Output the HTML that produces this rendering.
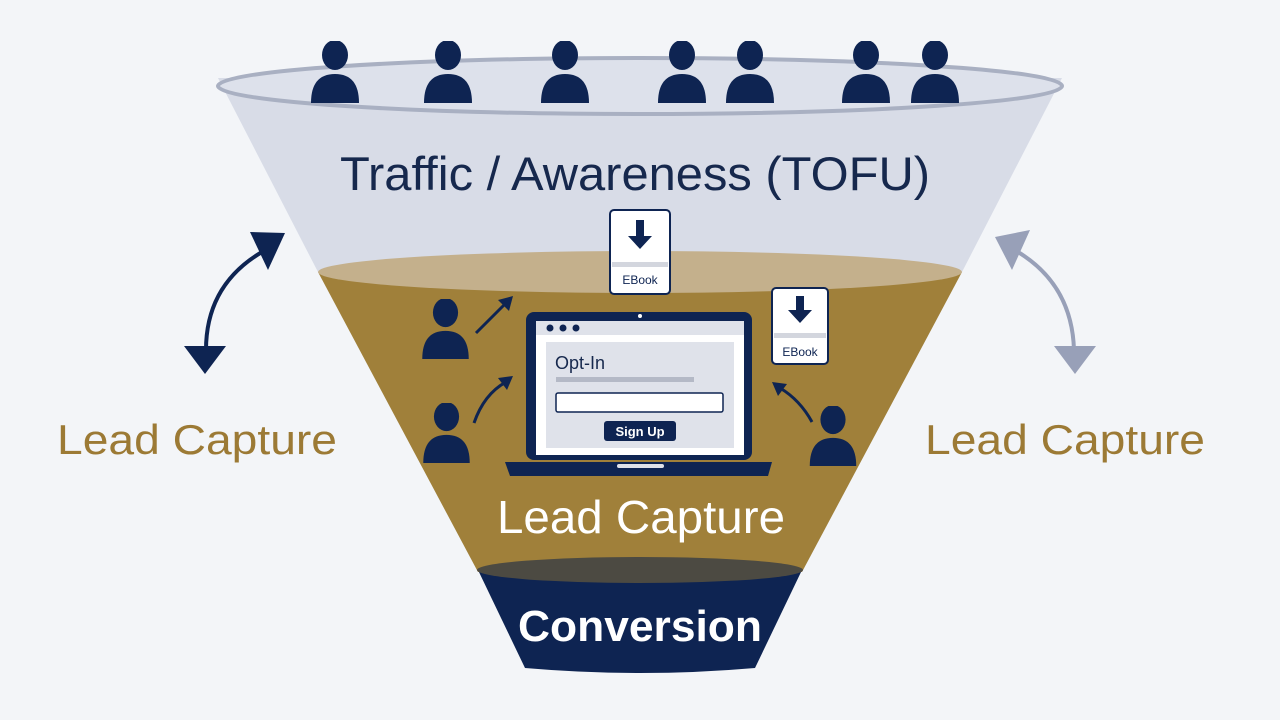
<!DOCTYPE html>
<html><head><meta charset="utf-8"><style>
html,body{margin:0;padding:0;background:#f3f5f8;}
svg{display:block}
text{font-family:"Liberation Sans",sans-serif;}
</style></head><body>
<svg width="1280" height="720" viewBox="0 0 1280 720" xmlns="http://www.w3.org/2000/svg">
<rect width="1280" height="720" fill="#f3f5f8"/>
<defs>
<symbol id="p" viewBox="0 0 48 62"><ellipse cx="24" cy="14" rx="13" ry="15"/><path d="M0 62 Q0 33 24 33 Q48 33 48 62 Z"/></symbol>
</defs>
<path d="M218 78 L1062 78 L962 272 L318 272 Z" fill="#d8dce7"/>
<ellipse cx="640" cy="86" rx="422" ry="28" fill="#dde1eb" stroke="#a9b0c2" stroke-width="4"/>
<path d="M318 272 L962 272 L802 572 L478 572 Z" fill="#a0803a"/>
<ellipse cx="640" cy="272" rx="322" ry="21" fill="#c4b08c"/>
<path d="M478 570 L802 570 L755 668 Q640 678 525 668 Z" fill="#0e2452"/>
<ellipse cx="640" cy="570" rx="163" ry="13" fill="#4c4a42"/>
<g fill="#0e2452">
<use href="#p" x="311" y="41" width="48" height="62"/>
<use href="#p" x="424" y="41" width="48" height="62"/>
<use href="#p" x="541" y="41" width="48" height="62"/>
<use href="#p" x="658" y="41" width="48" height="62"/>
<use href="#p" x="726" y="41" width="48" height="62"/>
<use href="#p" x="842" y="41" width="48" height="62"/>
<use href="#p" x="911" y="41" width="48" height="62"/>
</g>
<text x="635" y="190" font-size="47" fill="#16284d" text-anchor="middle" textLength="590" lengthAdjust="spacingAndGlyphs">Traffic / Awareness (TOFU)</text>
<g>
<rect x="610" y="210" width="60" height="84" rx="4" fill="#fff" stroke="#0e2452" stroke-width="2"/>
<rect x="612" y="262" width="56" height="5" fill="#d3d6de"/>
<path d="M636 220 h8 v16 h8 l-12 13 l-12 -13 h8 z" fill="#0e2452"/>
<text x="640" y="284" font-size="12" fill="#0e2452" text-anchor="middle">EBook</text>
<rect x="772" y="288" width="56" height="76" rx="4" fill="#fff" stroke="#0e2452" stroke-width="2"/>
<rect x="774" y="333" width="52" height="5" fill="#d3d6de"/>
<path d="M796 296 h8 v14 h8 l-12 13 l-12 -13 h8 z" fill="#0e2452"/>
<text x="800" y="356" font-size="12" fill="#0e2452" text-anchor="middle">EBook</text>
</g>
<rect x="526" y="312" width="226" height="148" rx="8" fill="#0e2452"/>
<rect x="536" y="321" width="208" height="134" fill="#fff"/>
<rect x="536" y="321" width="208" height="14" fill="#dfe2ea"/>
<circle cx="550" cy="328" r="3.5" fill="#0e2452"/><circle cx="563" cy="328" r="3.5" fill="#0e2452"/><circle cx="576" cy="328" r="3.5" fill="#0e2452"/>
<circle cx="640" cy="316" r="2" fill="#fff"/>
<rect x="546" y="342" width="188" height="106" fill="#dfe2ea"/>
<text x="555" y="369" font-size="18" fill="#16284d">Opt-In</text>
<rect x="556" y="377" width="138" height="5" fill="#b4b9c6"/>
<rect x="556" y="393" width="167" height="19" rx="2" fill="#fff" stroke="#0e2452" stroke-width="1.5"/>
<rect x="604" y="421" width="72" height="20" rx="3" fill="#0e2452"/>
<text x="640" y="436" font-size="13" font-weight="bold" fill="#fff" text-anchor="middle">Sign Up</text>
<path d="M505 462 H772 L768 476 H510 Z" fill="#0e2452"/>
<rect x="617" y="464" width="47" height="4" rx="2" fill="#dfe2ea"/>
<g fill="#0e2452">
<use href="#p" x="422" y="299" width="47" height="60"/>
<use href="#p" x="423" y="403" width="47" height="60"/>
<use href="#p" x="809" y="406" width="48" height="60"/>
</g>
<g stroke="#0e2452" stroke-width="3" fill="none">
<path d="M476 333 L505 304"/>
<path d="M474 423 Q484 394 506 382"/>
<path d="M812 422 Q800 400 780 388"/>
</g>
<g fill="#0e2452">
<path d="M513 296 L498 300 L509 311 Z"/>
<path d="M513 376 L498 378 L507 390 Z"/>
<path d="M772 382 L787 384 L778 396 Z"/>
</g>
<text x="641" y="533" font-size="46" fill="#fff" text-anchor="middle" textLength="288" lengthAdjust="spacingAndGlyphs">Lead Capture</text>
<text x="640" y="641" font-size="44" font-weight="bold" fill="#fff" text-anchor="middle" textLength="244" lengthAdjust="spacingAndGlyphs">Conversion</text>
<path d="M206 350 Q206 285 262 252" stroke="#0e2452" stroke-width="4" fill="none"/>
<path d="M285 233 L250 232 L268 270 Z" fill="#0e2452"/>
<path d="M205 374 L184 346 L226 346 Z" fill="#0e2452"/>
<path d="M1074 350 Q1072 285 1018 252" stroke="#98a0b8" stroke-width="4" fill="none"/>
<path d="M995 237 L1030 230 L1012 270 Z" fill="#98a0b8"/>
<path d="M1075 374 L1054 346 L1096 346 Z" fill="#98a0b8"/>
<text x="197" y="454" font-size="42" fill="#9c7a35" text-anchor="middle" textLength="280" lengthAdjust="spacingAndGlyphs">Lead Capture</text>
<text x="1065" y="454" font-size="42" fill="#9c7a35" text-anchor="middle" textLength="280" lengthAdjust="spacingAndGlyphs">Lead Capture</text>
</svg>
</body></html>
